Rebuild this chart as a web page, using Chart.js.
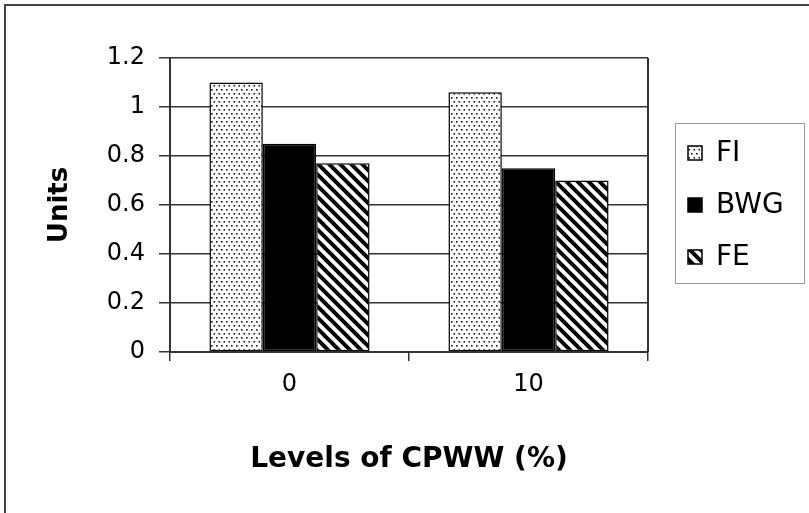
<!DOCTYPE html>
<html>
<head>
<meta charset="utf-8">
<script src="https://cdn.jsdelivr.net/npm/chart.js@4/dist/chart.umd.min.js"></script>
<style>
  html, body { margin: 0; padding: 0; background: #fff; }
  #wrap { width: 809px; height: 513px; position: relative; overflow: hidden; }
  canvas { display: block; }
</style>
</head>
<body>
<div id="wrap"><canvas id="chart" width="809" height="513"></canvas></div>
<script>
// Feed intake, body weight gain and feed efficiency by CPWW level
const categories = ['0', '10'];
const fiValues = [1.10, 1.06];
const bwgValues = [0.85, 0.75];
const feValues = [0.77, 0.70];
const seriesNames = ['FI', 'BWG', 'FE'];
const yTickValues = [0, 0.2, 0.4, 0.6, 0.8, 1, 1.2];

const FONT = "'DejaVu Sans', 'Liberation Sans', Arial, sans-serif";
const INK = '#000';
const LINE = '#333';

// Fill patterns: stippled dots and backslash stripes
function makeDotPattern() {
  const c = document.createElement('canvas');
  c.width = 10; c.height = 8;
  const g = c.getContext('2d');
  g.fillStyle = '#fff';
  g.fillRect(0, 0, 10, 8);
  g.fillStyle = '#1a1a1a';
  [[1, 1], [6, 1], [3.5, 5], [8.5, 5]].forEach(([x, y]) => g.fillRect(x, y, 1.6, 1.6));
  return g.createPattern(c, 'repeat');
}
function makeStripePattern() {
  const s = 11;
  const c = document.createElement('canvas');
  c.width = s; c.height = s;
  const g = c.getContext('2d');
  g.fillStyle = '#fff';
  g.fillRect(0, 0, s, s);
  g.strokeStyle = '#000';
  g.lineWidth = 4;
  g.lineCap = 'square';
  [-s, 0, s].forEach(k => {
    g.beginPath();
    g.moveTo(-2, -2 + k);
    g.lineTo(s + 2, s + 2 + k);
    g.stroke();
  });
  return g.createPattern(c, 'repeat');
}

const fills = [makeDotPattern(), '#000', makeStripePattern()];
const seriesValues = [fiValues, bwgValues, feValues];

// Outer frame, plot-area right edge and boxed legend
const decorations = {
  id: 'decorations',
  beforeDraw(chart) {
    const ctx = chart.ctx;
    ctx.save();
    ctx.fillStyle = '#fff';
    ctx.fillRect(0, 0, chart.width, chart.height);
    ctx.strokeStyle = '#444';
    ctx.lineWidth = 2;
    ctx.beginPath();
    ctx.moveTo(5, chart.height);
    ctx.lineTo(5, 5);
    ctx.lineTo(chart.width, 5);
    ctx.stroke();
    ctx.restore();
  },
  afterDatasetsDraw(chart) {
    const { ctx, chartArea } = chart;
    ctx.save();
    ctx.strokeStyle = LINE;
    ctx.lineWidth = 2;
    ctx.beginPath();
    ctx.moveTo(chartArea.right, chartArea.top);
    ctx.lineTo(chartArea.right, chartArea.bottom);
    ctx.stroke();
    ctx.restore();
  },
  afterDraw(chart) {
    const ctx = chart.ctx;
    ctx.save();
    ctx.strokeStyle = '#9a9a9a';
    ctx.lineWidth = 1;
    ctx.strokeRect(675.5, 123.5, 129, 160);
    ctx.font = '28px ' + FONT;
    ctx.textBaseline = 'middle';
    ctx.textAlign = 'left';
    chart.data.datasets.forEach((ds, i) => {
      const cy = 153 + i * 52;
      ctx.fillStyle = ds.backgroundColor;
      ctx.fillRect(688, cy - 7, 14, 14);
      ctx.strokeStyle = INK;
      ctx.lineWidth = 1.5;
      ctx.strokeRect(688, cy - 7, 14, 14);
      ctx.fillStyle = INK;
      ctx.fillText(ds.label, 716, cy + 1);
    });
    ctx.restore();
  }
};

new Chart(document.getElementById('chart'), {
  type: 'bar',
  data: {
    labels: categories,
    datasets: seriesNames.map((name, i) => ({
      label: name,
      data: seriesValues[i],
      backgroundColor: fills[i],
      borderColor: INK,
      borderWidth: 1.5,
      borderSkipped: false,
      categoryPercentage: 0.67,
      barPercentage: 1.0
    }))
  },
  options: {
    responsive: false,
    animation: false,
    devicePixelRatio: 1,
    layout: { padding: { top: 58, right: 161, left: 0, bottom: 0 } },
    plugins: {
      legend: { display: false },
      tooltip: { enabled: false }
    },
    scales: {
      x: {
        afterFit(scale) { scale.height = 161; },
        grid: {
          display: true,
          drawOnChartArea: false,
          tickLength: 9,
          color: LINE,
          lineWidth: 1.5
        },
        border: { display: true, color: LINE, width: 2 },
        ticks: {
          color: INK,
          padding: 9,
          font: { family: FONT, size: 24 }
        },
        title: {
          display: true,
          text: 'Levels of CPWW (%)',
          color: INK,
          font: { family: FONT, size: 28, weight: 'bold' },
          padding: { top: 0, bottom: 36 }
        }
      },
      y: {
        min: 0,
        max: 1.2,
        afterFit(scale) { scale.width = 170; },
        afterBuildTicks(scale) {
          scale.ticks = yTickValues.map(v => ({ value: v }));
        },
        grid: {
          color: LINE,
          lineWidth: 1.5,
          tickLength: 11
        },
        border: { display: true, color: LINE, width: 2 },
        ticks: {
          color: INK,
          padding: 14,
          font: { family: FONT, size: 24 },
          callback: v => String(Number(v.toFixed(1)))
        },
        title: {
          display: true,
          text: 'Units',
          color: INK,
          font: { family: FONT, size: 26, weight: 'bold' },
          padding: { top: 45, bottom: 0 }
        }
      }
    }
  },
  plugins: [decorations]
});
</script>
</body>
</html>
